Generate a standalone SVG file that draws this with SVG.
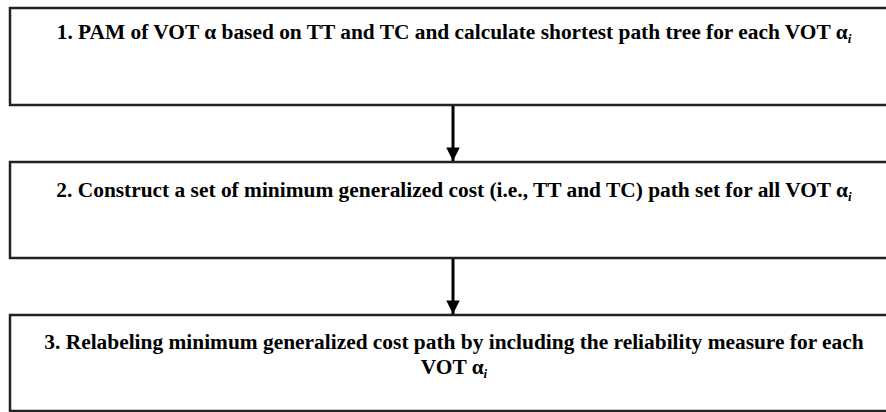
<svg xmlns="http://www.w3.org/2000/svg" width="886" height="412" viewBox="0 0 886 412">
<defs>
<style>
.box{fill:#fff;stroke:#222;stroke-width:2.5}
.t{font-family:"Liberation Serif","Times New Roman",serif;font-weight:bold;font-size:21.4px;fill:#000;text-anchor:middle}
.sub{font-style:italic;font-size:13px}
.conn{stroke:#000;stroke-width:3;fill:none}
</style>
<marker id="ah" viewBox="0 0 10 10" refX="10" refY="5" markerWidth="4.7" markerHeight="4.5" markerUnits="strokeWidth" orient="auto">
<path d="M0,0 L10,5 L0,10 z" fill="#000"/>
</marker>
</defs>
<rect width="886" height="412" fill="#fff"/>
<g id="node1">
<rect class="box" x="10" y="8" width="890" height="97"/>
<text class="t" x="454" y="39">1. PAM of VOT α based on TT and TC and calculate shortest path tree for each VOT α<tspan class="sub" dy="4">i</tspan></text>
</g>
<g id="node2">
<rect class="box" x="10" y="162" width="890" height="96"/>
<text class="t" x="454" y="197">2. Construct a set of minimum generalized cost (i.e., TT and TC) path set for all VOT α<tspan class="sub" dy="4">i</tspan></text>
</g>
<g id="node3">
<rect class="box" x="10" y="315" width="890" height="96"/>
<text class="t" x="454" y="349">3. Relabeling minimum generalized cost path by including the reliability measure for each</text>
<text class="t" x="454" y="374">VOT α<tspan class="sub" dy="4">i</tspan></text>
</g>
<g id="connectors">
<line class="conn" x1="453" y1="106" x2="453" y2="161" marker-end="url(#ah)"/>
<line class="conn" x1="453" y1="259" x2="453" y2="314" marker-end="url(#ah)"/>
</g>
</svg>
